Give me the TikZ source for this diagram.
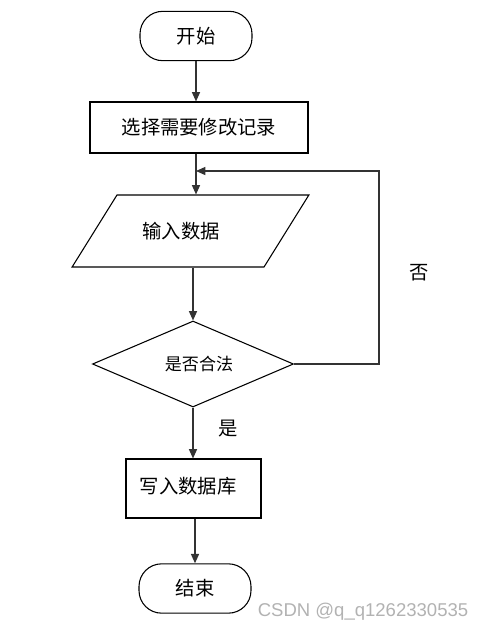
\documentclass[tikz,border=0pt]{standalone}
\usepackage{fontspec}
\setmainfont{Noto Sans CJK SC}
\newfontfamily\markfont{Liberation Sans}
\usetikzlibrary{shapes.geometric, arrows.meta}

\begin{document}
\begin{tikzpicture}[x=0.75pt, y=-0.75pt, line width=0.8pt,
    every node/.style={font=\fontsize{14.5}{17}\selectfont}]
    % Styles for the flowchart elements
    \tikzset{
        terminal/.style={draw, rectangle, rounded corners=17pt,
            minimum width=84pt, minimum height=37pt, inner sep=0pt},
        process/.style={draw, rectangle, inner sep=0pt},
        dataio/.style={draw, trapezium, trapezium left angle=45,
            trapezium right angle=135, trapezium stretches=true,
            minimum width=177.75pt, minimum height=54pt, inner sep=0pt},
        decision/.style={draw, diamond, minimum width=150.75pt,
            minimum height=64.5pt, inner sep=0pt,
            font=\fontsize{12.8}{15}\selectfont},
        flowarrow/.style={-{Triangle[length=7pt, width=6pt]}, line width=1pt,
            draw=black!80}
    }

    % Fix the page to the reference size
    \useasboundingbox (0,0) rectangle (483,633);

    % Flowchart nodes (texts nudged off centre as in the drawing)
    \node[terminal] (start) at (196,36) {开始};
    \node[process, minimum width=163.5pt, minimum height=38.25pt] (select) at (199,127.5) {选择需要修改记录};
    \node[dataio] (input) at (190.5,231) {\hspace*{-14pt}\raisebox{-3.5pt}{输入数据}};
    \node[decision] (check) at (193,364) {\raisebox{1.5pt}{是否合法}\hspace*{-9pt}};
    \node[process, minimum width=101.25pt, minimum height=44.25pt] (write) at (193.5,488.5) {\hspace*{-8pt}\raisebox{5pt}{写入数据库}};
    \node[terminal] (stop) at (195,588.5) {结束};

    % Point where the loop joins the main line
    \coordinate (join) at (196,171);

    % Main line arrows
    \draw[flowarrow] (start.south) -- (start.south |- select.north);
    \draw[flowarrow] (start.south |- select.south) -- (start.south |- input.north);
    \draw[flowarrow] (check.north |- input.south) -- (check.north);
    \draw[flowarrow] (check.south) -- (check.south |- write.north);
    \draw[flowarrow] (stop.north |- write.south) -- (stop.north);

    % Loop back when the data is not valid
    \draw[flowarrow] (check.east) -- ++(85,0) |- (join);

    % Branch labels
    \node (noLabel) at (419,273) {否};
    \node (yesLabel) at (228,429) {是};

    % Watermark
    \node[text=black!30, font=\markfont\fontsize{13.9}{16}\selectfont] (mark) at (363,612) {CSDN @q\_q1262330535};
\end{tikzpicture}
\end{document}
